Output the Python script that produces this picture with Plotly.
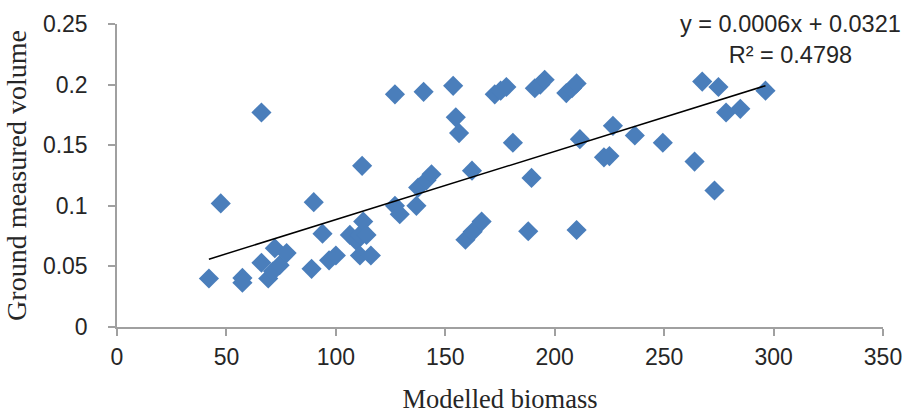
import plotly.graph_objects as go

# Modelled biomass (x) and ground measured volume (y)
biomass = [42.0, 47.4, 57.3, 57.3, 66.0, 66.0, 69.1, 71.3, 72.1, 74.3,
           77.5, 88.9, 89.9, 93.9, 96.9, 100.0, 106.4, 109.4, 111.0, 111.0,
           112.0, 112.5, 114.0, 116.0, 127.0, 127.0, 129.2, 136.8, 137.6, 140.1,
           141.4, 143.7, 153.6, 154.8, 156.3, 159.2, 162.5, 166.6, 162.2, 172.6,
           175.3, 177.9, 180.9, 187.9, 189.4, 190.9, 193.4, 195.4, 205.3, 207.9,
           210.0, 210.0, 211.5, 222.5, 225.0, 226.6, 236.6, 249.4, 263.9, 267.4,
           273.0, 274.8, 278.3, 284.8, 296.3]
volume = [0.040, 0.102, 0.0405, 0.0365, 0.177, 0.053, 0.040, 0.046, 0.065, 0.051,
          0.061, 0.048, 0.103, 0.077, 0.055, 0.059, 0.076, 0.071, 0.076, 0.059,
          0.133, 0.087, 0.076, 0.059, 0.192, 0.100, 0.093, 0.100, 0.115, 0.194,
          0.121, 0.126, 0.199, 0.173, 0.160, 0.072, 0.0786, 0.087, 0.129, 0.192,
          0.195, 0.198, 0.152, 0.079, 0.123, 0.197, 0.200, 0.204, 0.193, 0.197,
          0.201, 0.080, 0.155, 0.140, 0.141, 0.166, 0.158, 0.152, 0.1365, 0.2025,
          0.1126, 0.198, 0.177, 0.180, 0.195]

# Linear trendline as drawn in the chart
trend_slope = 0.000563
trend_intercept = 0.0323
equation_text = "y = 0.0006x + 0.0321<br>R² = 0.4798"

x_tickvals = [0, 50, 100, 150, 200, 250, 300, 350]
y_tickvals = [0, 0.05, 0.1, 0.15, 0.2, 0.25]
y_ticktext = ["0", "0.05", "0.1", "0.15", "0.2", "0.25"]

x_lo, x_hi = min(biomass), max(biomass)
trend_x = [x_lo, x_hi]
trend_y = [trend_slope * v + trend_intercept for v in trend_x]

fig = go.Figure()
fig.add_trace(go.Scatter(
    x=biomass, y=volume, mode="markers",
    marker=dict(symbol="diamond", size=15.5, color="#4A7EBB", line=dict(width=0)),
    showlegend=False, hoverinfo="x+y"))
fig.add_trace(go.Scatter(
    x=trend_x, y=trend_y, mode="lines",
    line=dict(color="black", width=1.5), showlegend=False, hoverinfo="skip"))

fig.add_annotation(
    x=(790 - 117) / (883 - 117), y=(327 - 40) / (327 - 24),
    xref="paper", yref="paper", text=equation_text,
    xanchor="center", yanchor="middle",
    showarrow=False, align="center",
    font=dict(family="Liberation Sans", size=23.5, color="#262626"))

axis_common = dict(
    showgrid=False, zeroline=False, showline=True, linecolor="#A0A0A0", linewidth=1.5,
    ticks="outside", ticklen=7, tickwidth=1.5, tickcolor="#A0A0A0", automargin=False,
    tickfont=dict(family="Liberation Sans", size=23, color="#262626"),
)

fig.update_layout(
    width=907, height=414,
    margin=dict(l=117, r=24, t=24, b=87),
    paper_bgcolor="white", plot_bgcolor="white",
    xaxis=dict(range=[0, 350], tickvals=x_tickvals, ticklabelstandoff=2,
               title=dict(text="Modelled biomass", standoff=20,
                          font=dict(family="Liberation Serif", size=26.5, color="#262626")),
               **axis_common),
    yaxis=dict(range=[0, 0.25], tickvals=y_tickvals, ticktext=y_ticktext, ticklabelstandoff=16,
               title=dict(text="Ground measured volume", standoff=8,
                          font=dict(family="Liberation Serif", size=28, color="#262626")),
               **axis_common),
)

fig.write_html("out.html")
